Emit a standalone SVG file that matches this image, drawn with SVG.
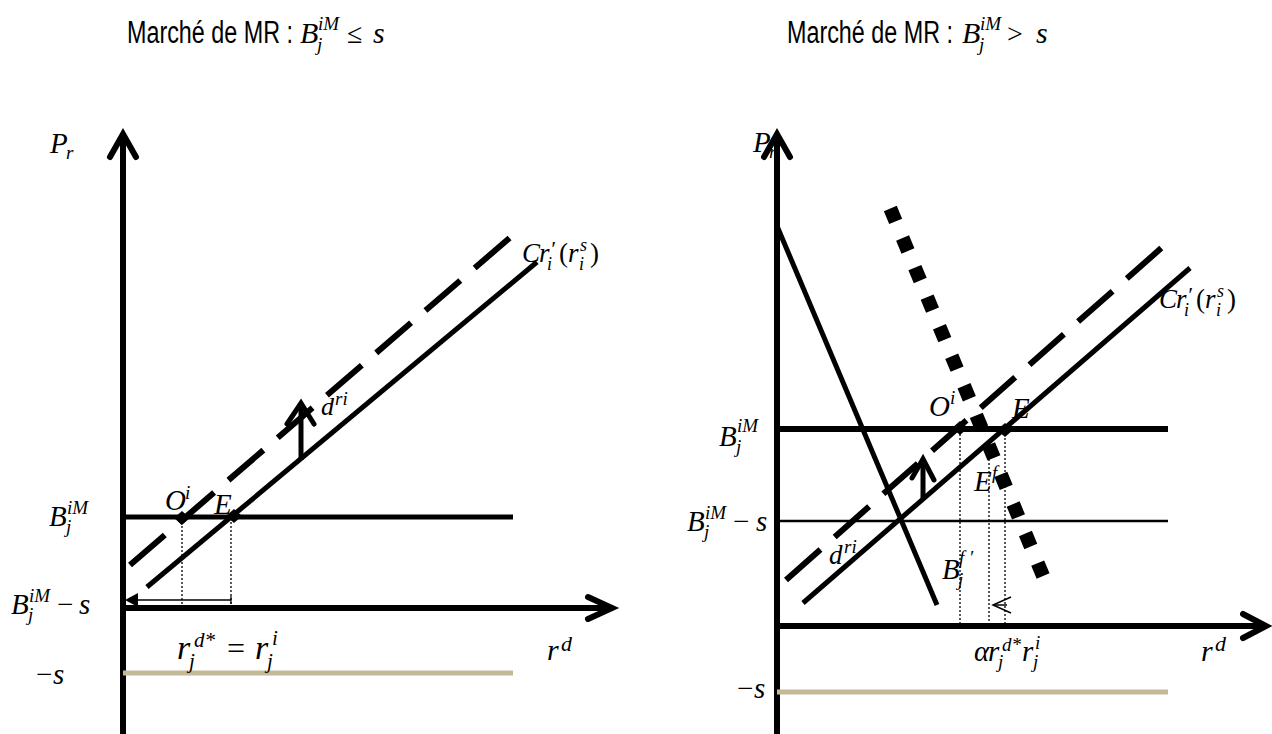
<svg xmlns="http://www.w3.org/2000/svg" width="1272" height="734" viewBox="0 0 1272 734">
<style>
.t{font-family:"Liberation Sans",Arial,sans-serif;font-size:31px;fill:#000}
.m{font-family:"Liberation Serif","Times New Roman",serif;font-style:italic;font-size:29px;fill:#000}
.u{font-style:normal}
.s{font-size:19px}
.ax{stroke:#000;stroke-width:6;fill:none}
.ah{stroke:#000;stroke-width:6;fill:none;stroke-linecap:round;stroke-linejoin:miter}
.th{stroke:#000;stroke-width:5;fill:none}
.dash{stroke:#000;stroke-width:6;fill:none;stroke-dasharray:46 19}
.dot{stroke:#000;stroke-width:1.3;fill:none;stroke-dasharray:2 2}
.tan{stroke:#C4BA97;stroke-width:5;fill:none}
</style>
<defs>
<polygon id="dm" points="-8,0 0,-7 8,0 0,7" fill="#000"/>
</defs>

<g id="titles">
<text class="t" x="127" y="43" textLength="166" lengthAdjust="spacingAndGlyphs">Marché de MR :</text>
<text class="m" x="300" y="43" style="font-size:30px">B</text><text class="m" x="318" y="30" style="font-size:19px">iM</text><text class="m" x="317" y="51" style="font-size:19px">j</text>
<text class="m u" x="347" y="43" style="font-size:28px">≤</text><text class="m" x="373" y="43" style="font-size:30px">s</text>
<text class="t" x="787" y="43" textLength="166" lengthAdjust="spacingAndGlyphs">Marché de MR :</text>
<text class="m" x="962" y="43" style="font-size:30px">B</text><text class="m" x="980" y="30" style="font-size:19px">iM</text><text class="m" x="979" y="51" style="font-size:19px">j</text>
<text class="m u" x="1007" y="43" style="font-size:28px">&gt;</text><text class="m" x="1036" y="43" style="font-size:30px">s</text>
</g>

<g id="left-panel">
<g id="left-axes">
<line class="ax" x1="123" y1="136" x2="123" y2="734"/>
<polyline class="ah" points="110,157 123,134 136,157"/>
<line class="ax" x1="120" y1="608" x2="610" y2="608"/>
<polyline class="ah" points="588,597 612,608 588,619"/>
</g>
<line class="tan" x1="123" y1="673" x2="513" y2="673"/>
<line class="th" x1="123" y1="517" x2="513" y2="517"/>
<g id="left-connectors">
<line class="th" x1="147" y1="587" x2="537" y2="262"/>
<line class="dash" x1="130" y1="565" x2="513" y2="235"/>
<line class="dot" x1="182" y1="518" x2="182" y2="606"/>
<line class="dot" x1="231" y1="518" x2="231" y2="606"/>
<line stroke="#000" stroke-width="1.5" x1="231" y1="600" x2="135" y2="600"/>
<line stroke="#000" stroke-width="1.2" x1="231" y1="596" x2="231" y2="604"/>
<polygon points="125,600 138,593 138,607" fill="#000"/>
<line stroke="#000" stroke-width="5" x1="301" y1="460" x2="301" y2="404"/>
<polyline class="ah" style="stroke-width:5px" points="287,424 301,403 314,424"/>
</g>
<use href="#dm" x="182" y="518"/>
<use href="#dm" x="234" y="516"/>
<g id="left-labels">
<text class="m" x="50" y="153">P</text><text class="m s" x="66" y="159">r</text>
<text class="m" x="49" y="526">B</text><text class="m s" x="67" y="514">iM</text><text class="m s" x="66" y="533">j</text>
<text class="m" x="11" y="614">B</text><text class="m s" x="29" y="602">iM</text><text class="m s" x="28" y="621">j</text>
<text class="m u" x="57" y="614">−</text><text class="m" x="79" y="614">s</text>
<text class="m u" x="36" y="684">−</text><text class="m" x="53" y="684">s</text>
<text class="m" x="165" y="510">O</text><text class="m s" x="185" y="499">i</text>
<text class="m" x="214" y="514">E</text>
<text class="m" x="177" y="659" style="font-size:34px">r</text><text class="m" x="194" y="647" style="font-size:21px">d*</text><text class="m" x="189" y="668" style="font-size:21px">j</text>
<text class="m u" x="227" y="659" style="font-size:32px">=</text>
<text class="m" x="255" y="659" style="font-size:34px">r</text><text class="m" x="272" y="645" style="font-size:21px">i</text><text class="m" x="267" y="668" style="font-size:21px">j</text>
<text class="m" x="547" y="660" style="font-size:30px">r</text><text class="m" x="561" y="651" style="font-size:22px">d</text>
<text class="m" x="321" y="415" style="font-size:26px">d</text><text class="m s" x="335" y="405">ri</text>
<text class="m" x="522" y="262" style="font-size:27px">C</text><text class="m" x="539" y="262" style="font-size:27px">r</text><text class="m" x="550" y="256" style="font-size:22px">′</text><text class="m" x="547" y="270" style="font-size:18px">i</text>
<text class="m u" x="559" y="262" style="font-size:27px">(</text><text class="m" x="568" y="262" style="font-size:27px">r</text><text class="m" x="580" y="251" style="font-size:18px">s</text><text class="m" x="579" y="270" style="font-size:18px">i</text><text class="m u" x="590" y="262" style="font-size:27px">)</text>
</g>
</g>

<g id="right-panel">
<g id="right-axes">
<line class="ax" x1="777" y1="136" x2="777" y2="734"/>
<polyline class="ah" points="764,157 777,134 790,157"/>
<line class="ax" x1="774" y1="626" x2="1264" y2="626"/>
<polyline class="ah" points="1243,614 1266,626 1243,638"/>
</g>
<line class="tan" x1="777" y1="692" x2="1168" y2="692"/>
<line class="th" style="stroke-width:6px" x1="777" y1="429" x2="1168" y2="429"/>
<line stroke="#000" stroke-width="2.5" x1="777" y1="521" x2="1168" y2="521"/>
<g id="right-connectors">
<line class="th" x1="777" y1="226" x2="937" y2="605"/>
<line class="th" x1="803" y1="603" x2="1190" y2="268"/>
<line class="dash" x1="786" y1="580" x2="1167" y2="243"/>
<line stroke="#000" stroke-width="14" stroke-dasharray="14 18" x1="890.3" y1="208.5" x2="1043.7" y2="577.5"/>
<line class="dot" x1="960" y1="430" x2="960" y2="624"/>
<line class="dot" x1="989" y1="443" x2="989" y2="624"/>
<line class="dot" x1="1005" y1="430" x2="1005" y2="624"/>
<polyline fill="none" stroke="#000" stroke-width="1.5" points="1011,597 993,605 1011,613"/>
<line stroke="#000" stroke-width="1.5" x1="993" y1="605" x2="1007" y2="605"/>
<line stroke="#000" stroke-width="5" x1="923" y1="499" x2="923" y2="460"/>
<polyline class="ah" style="stroke-width:5px" points="912,478 923,459 934,480"/>
</g>
<use href="#dm" x="960" y="428"/>
<use href="#dm" x="1005" y="430"/>
<g id="right-labels">
<text class="m" x="753" y="152">P</text><text class="m s" x="769" y="158">r</text>
<text class="m" x="719" y="446">B</text><text class="m s" x="737" y="432">iM</text><text class="m s" x="736" y="453">j</text>
<text class="m" x="687" y="531">B</text><text class="m s" x="705" y="519">iM</text><text class="m s" x="704" y="538">j</text>
<text class="m u" x="733" y="531">−</text><text class="m" x="756" y="531">s</text>
<text class="m u" x="737" y="698">−</text><text class="m" x="754" y="698">s</text>
<text class="m" x="929" y="416">O</text><text class="m s" x="950" y="404">i</text>
<text class="m" x="1012" y="418">E</text>
<text class="m" x="974" y="491">E</text><text class="m s" x="992" y="479">f</text>
<text class="m" x="942" y="579">B</text><text class="m s" x="959" y="564">f ′</text><text class="m s" x="958" y="586">j</text>
<text class="m" x="829" y="564" style="font-size:27px">d</text><text class="m s" x="844" y="553">ri</text>
<text class="m" x="974" y="661">α</text><text class="m" x="988" y="661">r</text><text class="m" x="1002" y="651" style="font-size:19px">d*</text><text class="m" x="998" y="668" style="font-size:19px">j</text>
<text class="m" x="1022" y="661">r</text><text class="m" x="1035" y="649" style="font-size:19px">i</text><text class="m" x="1033" y="668" style="font-size:19px">j</text>
<text class="m" x="1201" y="661" style="font-size:30px">r</text><text class="m" x="1215" y="651" style="font-size:22px">d</text>
<text class="m" x="1159" y="308" style="font-size:27px">C</text><text class="m" x="1176" y="308" style="font-size:27px">r</text><text class="m" x="1187" y="302" style="font-size:22px">′</text><text class="m" x="1184" y="316" style="font-size:18px">i</text>
<text class="m u" x="1196" y="308" style="font-size:27px">(</text><text class="m" x="1205" y="308" style="font-size:27px">r</text><text class="m" x="1217" y="297" style="font-size:18px">s</text><text class="m" x="1216" y="316" style="font-size:18px">i</text><text class="m u" x="1227" y="308" style="font-size:27px">)</text>
</g>
</g>
</svg>
